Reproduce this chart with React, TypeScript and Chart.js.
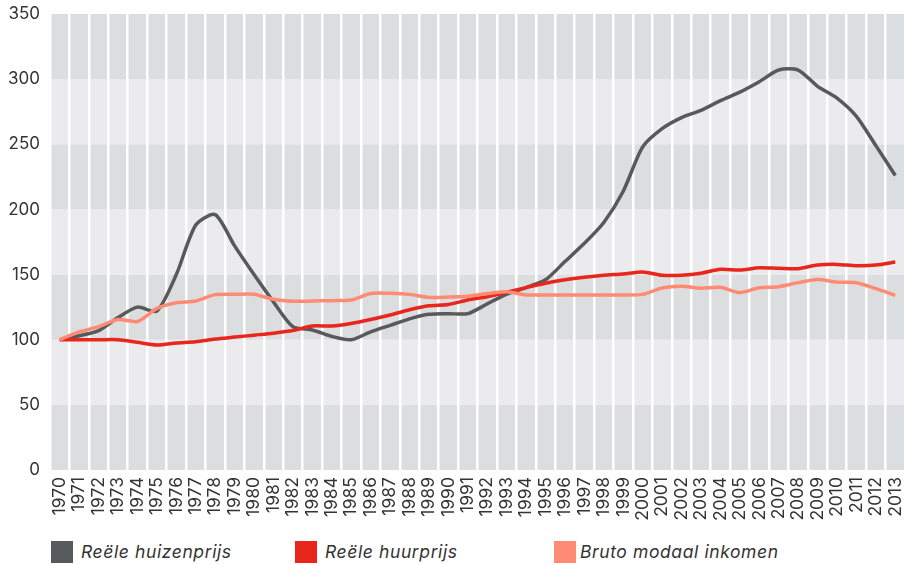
import React, { useEffect, useRef } from "react";
import { Chart, registerables } from "chart.js";

Chart.register(...registerables);

const years: string[] = [
  "1970","1971","1972","1973","1974","1975","1976","1977","1978","1979",
  "1980","1981","1982","1983","1984","1985","1986","1987","1988","1989",
  "1990","1991","1992","1993","1994","1995","1996","1997","1998","1999",
  "2000","2001","2002","2003","2004","2005","2006","2007","2008","2009",
  "2010","2011","2012","2013",
];

const huizenprijs: number[] = [
  100, 103, 107, 117, 125, 122, 150, 188, 196, 172,
  150, 129, 110, 107.5, 102.5, 100, 106, 111, 116, 119.5,
  120, 120, 127.5, 135, 140, 146, 160, 174, 190, 214,
  248, 262, 270.5, 276, 283.5, 290, 298, 307, 307, 294.5,
  285.5, 271.5, 249, 226,
];

const huurprijs: number[] = [
  100, 100, 100, 100, 98, 96, 97.5, 98.5, 100.5, 102,
  103.5, 105, 107, 110.5, 110.5, 112.5, 115.5, 119, 123, 126,
  127, 130.5, 133, 136.5, 140, 143.3, 146, 148, 149.5, 150.5,
  152, 149.5, 149.5, 151, 154, 153.5, 155.2, 154.8, 154.5, 157.3,
  157.8, 156.8, 157.3, 159.6,
];

const modaalInkomen: number[] = [
  100, 106, 110, 115.5, 114, 124, 128.4, 129.7, 134.6, 134.9,
  134.9, 131, 129.5, 129.7, 130, 130.5, 135.5, 135.6, 134.8, 132.5,
  132.7, 133.3, 135.4, 136.8, 134.4, 134.3, 134.3, 134.3, 134.3, 134.3,
  134.8, 139.7, 141, 139.5, 140.2, 136.2, 139.9, 140.7, 143.8, 146.2,
  144.2, 143.8, 139.2, 134.1,
];

const yTicks: number[] = [0, 50, 100, 150, 200, 250, 300, 350];

const seriesLabels: string[] = ["Reële huizenprijs", "Reële huurprijs", "Bruto modaal inkomen"];
const seriesColors: string[] = ["#58595b", "#e8261c", "#ff8b74"];

const bandDark = "#dcdddf";
const bandLight = "#ebebed";

const bandsPlugin = {
  id: "bands",
  beforeDraw(chart: any) {
    const { ctx, chartArea, scales } = chart;
    const y = scales.y;
    ctx.save();
    for (let i = 0; i < yTicks.length - 1; i++) {
      const top = y.getPixelForValue(yTicks[i + 1]);
      const bottom = y.getPixelForValue(yTicks[i]);
      ctx.fillStyle = i % 2 === 0 ? bandDark : bandLight;
      ctx.fillRect(chartArea.left, top, chartArea.right - chartArea.left, bottom - top);
    }
    ctx.restore();
  },
};

export default function App() {
  const ref = useRef<HTMLCanvasElement | null>(null);

  useEffect(() => {
    if (!ref.current) return;
    const font = "Inter, 'DejaVu Sans', sans-serif";
    const mk = (label: string, data: number[], color: string) => ({
      label,
      data,
      borderColor: color,
      backgroundColor: color,
      borderWidth: 3.5,
      pointRadius: 0,
      tension: 0.25,
      fill: false,
    });
    const chart = new Chart(ref.current, {
      type: "line",
      data: {
        labels: years,
        datasets: [
          mk(seriesLabels[2], modaalInkomen, seriesColors[2]),
          mk(seriesLabels[1], huurprijs, seriesColors[1]),
          mk(seriesLabels[0], huizenprijs, seriesColors[0]),
        ],
      },
      options: {
        responsive: false,
        animation: false,
        layout: { padding: { top: 14, right: 0, left: 0, bottom: 0 } },
        plugins: {
          legend: { display: false },
          tooltip: { enabled: false },
        },
        scales: {
          x: {
            type: "category",
            offset: true,
            grid: {
              display: true,
              offset: true,
              color: "#ffffff",
              lineWidth: 2.5,
              drawTicks: false,
            },
            border: { display: false },
            ticks: {
              autoSkip: false,
              minRotation: 90,
              maxRotation: 90,
              padding: 7,
              color: "#333333",
              font: { family: font, size: 17.5 },
            },
            afterFit(scale: any) {
              scale.height = 60;
              scale.paddingLeft = 0;
              scale.paddingRight = 0;
            },
          },
          y: {
            min: 0,
            max: 350,
            grid: { display: false, drawTicks: false },
            border: { display: false },
            afterBuildTicks(scale: any) {
              scale.ticks = yTicks.map((v) => ({ value: v }));
            },
            ticks: {
              padding: 10,
              color: "#333333",
              font: { family: font, size: 17 },
            },
            afterFit(scale: any) {
              scale.width = 50;
              scale.paddingTop = 0;
              scale.paddingBottom = 0;
            },
          },
        },
      },
      plugins: [bandsPlugin],
    });
    return () => chart.destroy();
  }, []);

  const legendPos = [
    { box: 51, text: 81 },
    { box: 295, text: 325 },
    { box: 554, text: 580 },
  ];

  return (
    <div style={{ position: "absolute", left: 0, top: 0, width: 905, height: 565, background: "#fff" }}>
      <canvas ref={ref} width={905} height={530} style={{ display: "block" }} />
      {seriesLabels.map((l, i) => (
        <div key={l}>
          <div
            style={{
              position: "absolute",
              left: legendPos[i].box,
              top: 541,
              width: 22,
              height: 22,
              background: seriesColors[i],
            }}
          />
          <div
            style={{
              position: "absolute",
              left: legendPos[i].text,
              top: 540,
              lineHeight: "24px",
              fontFamily: "Inter, 'DejaVu Sans', sans-serif",
              fontStyle: "italic",
              fontSize: 17.5,
              letterSpacing: "0.6px",
              color: "#333333",
              whiteSpace: "nowrap",
            }}
          >
            {l}
          </div>
        </div>
      ))}
    </div>
  );
}
